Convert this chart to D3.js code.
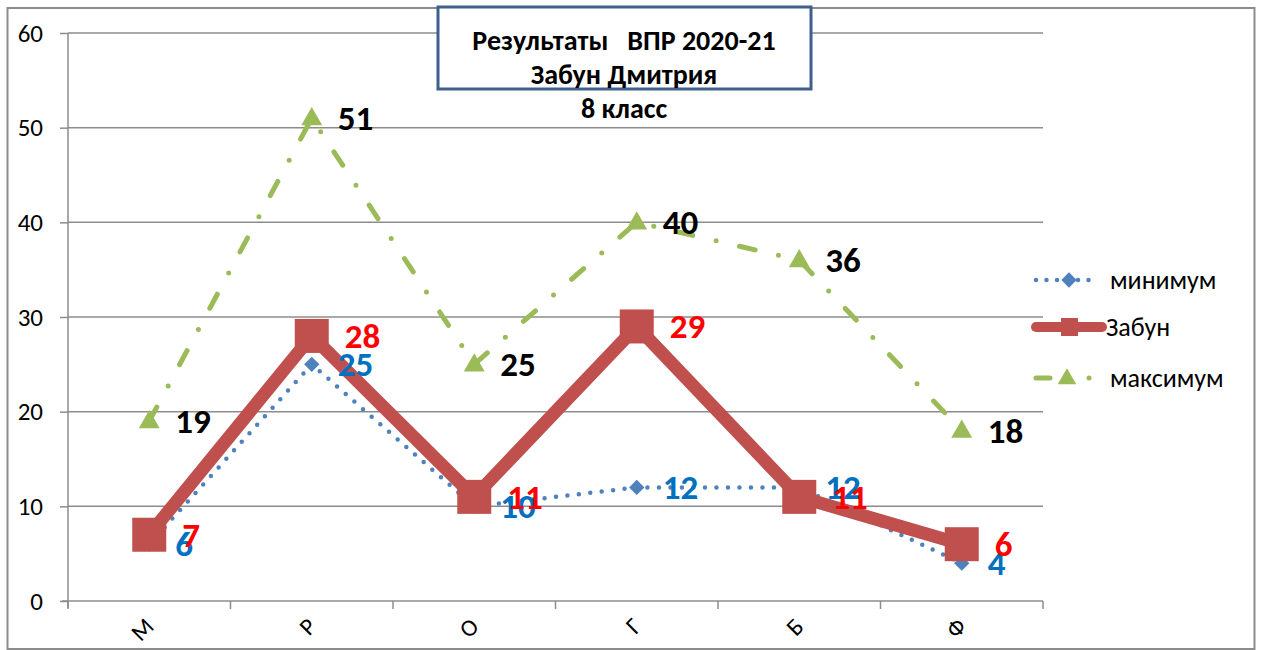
<!DOCTYPE html>
<html>
<head>
<meta charset="utf-8">
<script src="https://cdn.jsdelivr.net/npm/d3@7"></script>
<style>
  body { margin: 0; background: #fff; }
  text { font-family: Carlito, Calibri, "Open Sans", sans-serif; }
</style>
</head>
<body>
<div id="chart"></div>
<script>
// subjects
var cats = ["М", "Р", "О", "Г", "Б", "Ф"];
var minimum = [6, 25, 10, 12, 12, 4];
var zabun = [7, 28, 11, 29, 11, 6];
var maximum = [19, 51, 25, 40, 36, 18];
var yTicks = [0, 10, 20, 30, 40, 50, 60];
var seriesNames = ["минимум", "Забун", "максимум"];
var titleLines = ["Результаты   ВПР 2020-21", "Забун Дмитрия", "8 класс"];

var W = 1263, H = 650;
var svg = d3.select("#chart").append("svg")
    .attr("width", W).attr("height", H);

var x = d3.scaleBand().domain(cats).range([68, 1043]).padding(0);
var y = d3.scaleLinear().domain([0, 60]).range([601, 33]);
var cx = function(d, i){ return x(cats[i]) + x.bandwidth() / 2; };

// outer frame
svg.append("rect")
    .attr("x", 7.5).attr("y", 8).attr("width", 1247).attr("height", 641)
    .attr("fill", "none").attr("stroke", "#8c8c8c").attr("stroke-width", 2);

// gridlines
svg.append("g").selectAll("line")
    .data(yTicks.slice(1))
  .enter().append("line")
    .attr("x1", 68).attr("x2", 1043)
    .attr("y1", function(d){ return y(d); }).attr("y2", function(d){ return y(d); })
    .attr("stroke", "#8c8c8c").attr("stroke-width", 1.5);

// y axis
var yAxis = d3.axisLeft(y).tickValues(yTicks).tickSize(8).tickPadding(17);
var gy = svg.append("g").attr("transform", "translate(68,0)").call(yAxis);
gy.select(".domain").remove();
gy.selectAll(".tick line").attr("stroke", "#8c8c8c").attr("stroke-width", 1.5);
gy.selectAll(".tick text").attr("font-size", 25).attr("fill", "#000")
    .style("font-family", "Carlito, Calibri, 'Open Sans', sans-serif");
svg.append("line").attr("x1", 68).attr("x2", 68).attr("y1", 33).attr("y2", 608)
    .attr("stroke", "#8c8c8c").attr("stroke-width", 1.5);

// x axis
svg.append("line").attr("x1", 62).attr("x2", 1043).attr("y1", 601).attr("y2", 601)
    .attr("stroke", "#8c8c8c").attr("stroke-width", 1.5);
var edges = cats.map(function(c){ return x(c); }).concat([x.range()[1]]);
svg.append("g").selectAll("line")
    .data(edges)
  .enter().append("line")
    .attr("x1", function(d){ return d; }).attr("x2", function(d){ return d; })
    .attr("y1", 601).attr("y2", 609)
    .attr("stroke", "#8c8c8c").attr("stroke-width", 1.5);
svg.append("g").selectAll("text")
    .data(cats)
  .enter().append("text")
    .attr("transform", function(d, i){ return "translate(" + (cx(d, i) + 6) + ",628) rotate(-45)"; })
    .attr("text-anchor", "end")
    .attr("font-size", 24)
    .text(function(d){ return d; });

var line = d3.line().x(cx).y(function(d){ return y(d); });

// минимум
svg.append("path").datum(minimum)
    .attr("d", line).attr("fill", "none")
    .attr("stroke", "#4f81bd").attr("stroke-width", 4.5)
    .attr("stroke-linecap", "round").attr("stroke-dasharray", "0 11.5");
svg.append("g").selectAll("path")
    .data(minimum)
  .enter().append("path")
    .attr("d", d3.symbol().type(d3.symbolDiamond2).size(150))
    .attr("transform", function(d, i){ return "translate(" + cx(d, i) + "," + y(d) + ")"; })
    .attr("fill", "#4f81bd");

// Забун
svg.append("path").datum(zabun)
    .attr("d", line).attr("fill", "none")
    .attr("stroke", "#c0504d").attr("stroke-width", 13)
    .attr("stroke-linejoin", "miter");
svg.append("g").selectAll("rect")
    .data(zabun)
  .enter().append("rect")
    .attr("x", function(d, i){ return cx(d, i) - 17; })
    .attr("y", function(d){ return y(d) - 17; })
    .attr("width", 34).attr("height", 34)
    .attr("fill", "#c0504d");

// максимум
svg.append("path").datum(maximum)
    .attr("d", line).attr("fill", "none")
    .attr("stroke", "#9bbb59").attr("stroke-width", 5)
    .attr("stroke-linecap", "round").attr("stroke-dasharray", "16 24 0 24");
svg.append("g").selectAll("path")
    .data(maximum)
  .enter().append("path")
    .attr("d", d3.symbol().type(d3.symbolTriangle).size(190))
    .attr("transform", function(d, i){ return "translate(" + cx(d, i) + "," + (y(d) + 1) + ")"; })
    .attr("fill", "#9bbb59");

// data labels
function labels(data, color, dx){
  svg.append("g").selectAll("text")
      .data(data)
    .enter().append("text")
      .attr("x", function(d, i){ return cx(d, i) + dx; })
      .attr("y", function(d){ return y(d); })
      .attr("dy", "0.34em")
      .attr("font-size", 35).attr("font-weight", "bold")
      .attr("fill", color)
      .text(function(d){ return d; });
}
labels(minimum, "#0070c0", 26);
labels(zabun, "#ff0000", 33);
labels(maximum, "#000000", 26);

// title
svg.append("rect")
    .attr("x", 438).attr("y", 7).attr("width", 373).attr("height", 82)
    .attr("fill", "#fff").attr("stroke", "#3f5f8f").attr("stroke-width", 3);
svg.append("g").selectAll("text")
    .data(titleLines)
  .enter().append("text")
    .attr("x", 624)
    .attr("y", function(d, i){ return 50 + i * 34; })
    .attr("text-anchor", "middle")
    .attr("font-size", 28).attr("font-weight", "bold")
    .style("white-space", "pre")
    .text(function(d){ return d; });

// legend
var leg = svg.append("g");
var rows = [280, 327, 378];
leg.append("line").attr("x1", 1036).attr("x2", 1098).attr("y1", rows[0]).attr("y2", rows[0])
    .attr("stroke", "#4f81bd").attr("stroke-width", 4.5)
    .attr("stroke-linecap", "round").attr("stroke-dasharray", "0 10.5");
leg.append("path").attr("d", d3.symbol().type(d3.symbolDiamond2).size(150))
    .attr("transform", "translate(1069," + rows[0] + ")").attr("fill", "#4f81bd");
leg.append("line").attr("x1", 1036).attr("x2", 1102).attr("y1", rows[1]).attr("y2", rows[1])
    .attr("stroke", "#c0504d").attr("stroke-width", 10).attr("stroke-linecap", "round");
leg.append("rect").attr("x", 1061).attr("y", rows[1] - 9).attr("width", 17).attr("height", 18)
    .attr("fill", "#c0504d");
leg.append("line").attr("x1", 1036).attr("x2", 1098).attr("y1", rows[2]).attr("y2", rows[2])
    .attr("stroke", "#9bbb59").attr("stroke-width", 5)
    .attr("stroke-linecap", "round").attr("stroke-dasharray", "14 16 0 23 0 100");
leg.append("path").attr("d", d3.symbol().type(d3.symbolTriangle).size(150))
    .attr("transform", "translate(1067," + (rows[2] + 1) + ")").attr("fill", "#9bbb59");
leg.selectAll("text.lbl")
    .data(seriesNames)
  .enter().append("text")
    .attr("class", "lbl")
    .attr("x", function(d, i){ return i === 1 ? 1106 : 1110; })
    .attr("y", function(d, i){ return rows[i]; })
    .attr("dy", "0.35em")
    .attr("font-size", 26)
    .text(function(d){ return d; });
</script>
</body>
</html>
